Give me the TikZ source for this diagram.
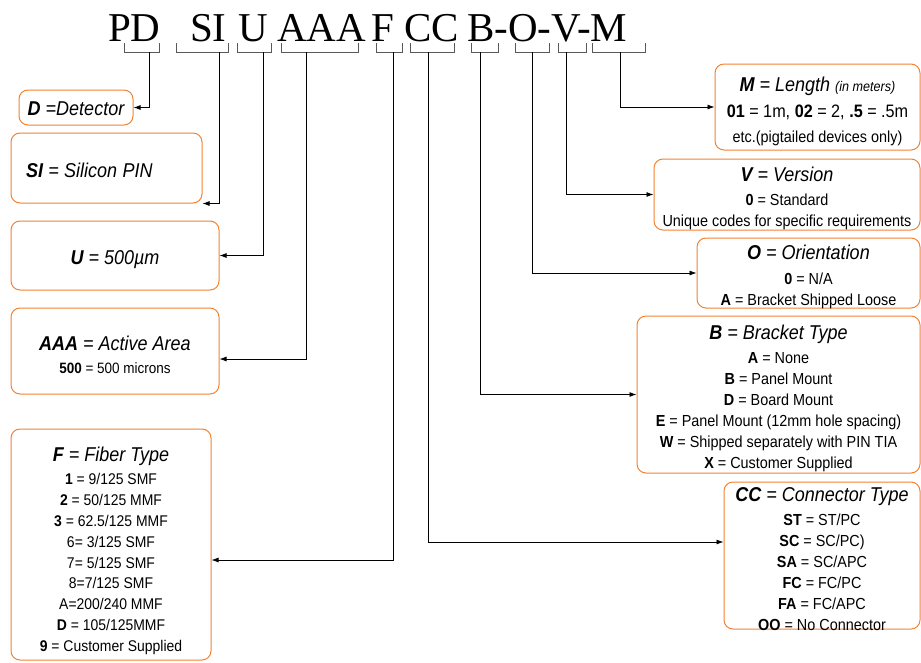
\documentclass[tikz,border=0pt]{standalone}
\usepackage{fontspec}
\setmainfont{Liberation Sans}[FakeStretch=0.9]
\newfontfamily\codefont{Liberation Serif}
\usetikzlibrary{arrows.meta}
\definecolor{boxorange}{RGB}{242,130,50}
\newcommand{\hd}{\fontsize{20}{24}\selectfont\itshape}
\newcommand{\bd}{\fontsize{16}{21}\selectfont}
\newcommand{\codebox}[6][]{%
 \node[codebox, minimum width={#4pt}, minimum height={#5pt}] ({#2}) at ({#3}) {};%
 \node[boxtext, #1] ({#2}-text) at ([yshift=-4pt]{#2}.center) {#6};%
}
\newcommand{\codebracket}[4]{%
 \draw[bracket] ({#2},43) -- ({#2},52) -- ({#3},52) -- ({#3},43);%
 \coordinate ({#1}) at ({#4},52);%
}

\begin{document}
\begin{tikzpicture}[x=1pt, y=-1pt,
  codebox/.style={draw=boxorange, line width=1pt, rounded corners=9pt, inner sep=0pt},
  boxtext/.style={inner sep=0pt, align=center, font=\bd},
  bracket/.style={black!65, line width=.9pt},
  link/.style={black, line width=.8pt, -{Latex[length=7pt,width=5pt]}},
  codeword/.style={anchor=base west, inner sep=0pt, font=\codefont\fontsize{41}{41}\selectfont}]
  \useasboundingbox (0,0) rectangle (921,662);
  % part number
  \node[codeword] (wPD) at (108,41) {PD};
  \node[codeword] (wSI) at (190,41) {SI};
  \node[codeword] (wU) at (238,41) {U};
  \node[codeword] (wAAA) at (277,41) {AAA};
  \node[codeword] (wF) at (371,41) {F};
  \node[codeword] (wCC) at (404,41) {CC};
  \node[codeword] (wBOVM) at (467,41) {B-O-V-M};
  \codebracket{bPD}{124}{159}{149}
  \codebracket{bSI}{176}{228}{219}
  \codebracket{bU}{237}{271}{263}
  \codebracket{bAAA}{281}{358}{306}
  \codebracket{bF}{376}{402}{393}
  \codebracket{bCC}{410}{454}{428}
  \codebracket{bB}{471}{498}{480}
  \codebracket{bO}{515}{549}{532}
  \codebracket{bV}{558}{586}{566}
  \codebracket{bM}{592}{645}{620}
  % left column
  \codebox[yshift=3pt]{boxD}{76,107.5}{114}{35}{{\hd\textbf{D} =Detector}}
  \codebox[align=left, text width=165pt, xshift=2pt, yshift=2pt]{boxSI}{106.5,168}{191}{70}{{\hd\textbf{SI} = Silicon PIN}}
  \codebox{boxU}{115,255.5}{208}{69}{{\hd\textbf{U} = 500µm}}
  \codebox{boxAAA}{115,351}{208}{86}{{\hd\textbf{AAA} = Active Area}\\[2pt]
    {\fontsize{15}{19}\selectfont\textbf{500} = 500 microns}}
  \codebox[font=\fontsize{15.5}{20.8}\selectfont, yshift=-2pt]{boxF}{111,544.5}{200}{231}{{\hd\textbf{F} = Fiber Type}\\[3pt]
    \textbf{1} = 9/125 SMF\\ \textbf{2} = 50/125 MMF\\ \textbf{3} = 62.5/125 MMF\\
    6= 3/125 SMF\\ 7= 5/125 SMF\\ 8=7/125 SMF\\ A=200/240 MMF\\
    \textbf{D} = 105/125MMF\\ \textbf{9} = Customer Supplied}
  % right column
  \codebox{boxM}{817.5,107}{205}{86}{{\fontsize{20}{24}\selectfont\itshape\textbf{M} = Length {\fontsize{14}{16}\selectfont(in meters)}}\\[5pt]
    {\fontsize{18}{22}\selectfont\textbf{01} = 1m, \textbf{02} = 2, \textbf{.5} = .5m}\\[4pt]
    etc.(pigtailed devices only)}
  \codebox{boxV}{787,194.5}{266}{71}{{\hd\textbf{V} = Version}\\[3pt]
    \textbf{0} = Standard\\ Unique codes for specific requirements}
  \codebox{boxO}{808.5,273}{223}{70}{{\hd\textbf{O} = Orientation}\\[4pt]
    \textbf{0} = N/A\\ \textbf{A} = Bracket Shipped Loose}
  \codebox{boxB}{778.5,394.5}{283}{157}{{\hd\textbf{B} = Bracket Type}\\[3pt]
    \textbf{A} = None\\ \textbf{B} = Panel Mount\\ \textbf{D} = Board Mount\\
    \textbf{E} = Panel Mount (12mm hole spacing)\\
    \textbf{W} = Shipped separately with PIN TIA\\ \textbf{X} = Customer Supplied}
  \codebox{boxCC}{822,555.5}{196}{147}{{\hd\textbf{CC} = Connector Type}\\[3pt]
    \textbf{ST} = ST/PC\\ \textbf{SC} = SC/PC)\\ \textbf{SA} = SC/APC\\
    \textbf{FC} = FC/PC\\ \textbf{FA} = FC/APC\\ \textbf{OO} = No Connector}
  % connectors
  \draw[link] (bPD) |- (boxD.east);
  \draw[link] (bSI) |- (boxSI.south east);
  \draw[link] (bU) |- (boxU.east);
  \draw[link] (bAAA) |- ([yshift=-8pt]boxAAA.east);
  \draw[link] (bF) |- ([yshift=-15.5pt]boxF.east);
  \draw[link] (bCC) |- ([yshift=13.5pt]boxCC.west);
  \draw[link] (bB) |- (boxB.west);
  \draw[link] (bO) |- (boxO.west);
  \draw[link] (bV) |- (boxV.west);
  \draw[link] (bM) |- (boxM.west);
\end{tikzpicture}
\end{document}
